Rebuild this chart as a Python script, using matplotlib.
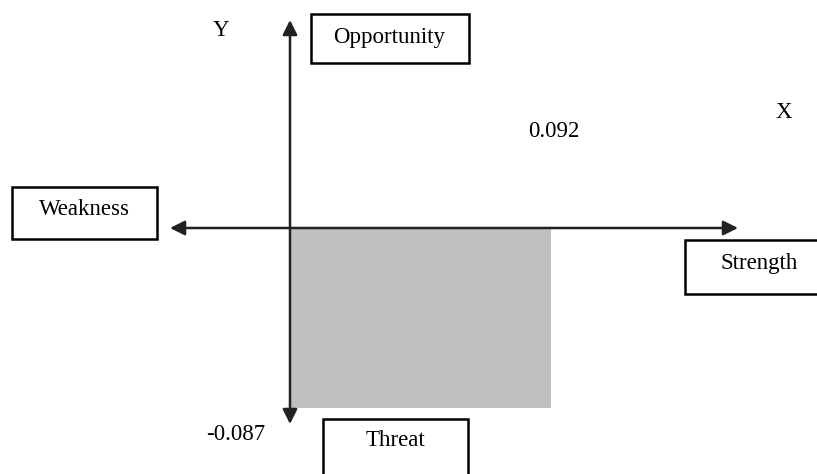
import matplotlib
matplotlib.use("Agg")
import matplotlib.pyplot as plt
from matplotlib.patches import Rectangle

# Data
strength_value = 0.092     # X (Strength)
threat_value = -0.087      # Y (Threat)
box_labels = ["Opportunity", "Weakness", "Strength", "Threat"]
axis_labels = ["X", "Y"]

W, H = 817, 474
fig = plt.figure(figsize=(W / 100, H / 100), dpi=100)
ax = fig.add_axes([0, 0, 1, 1])
ax.set_axis_off()

# origin at pixel (290, 228); value scale from rectangle extent
ox, oy = 290, 228
sx = (551 - ox) / strength_value
sy = (408 - oy) / abs(threat_value)
ax.set_xlim(-ox / sx, (W - ox) / sx)
ax.set_ylim(-(H - oy) / sy, oy / sy)

ax.add_patch(Rectangle((0, 0), strength_value, threat_value,
                       facecolor="#c0c0c0", edgecolor="none", zorder=1))

def P(x, y):
    return (x / W, 1 - y / H)

ft = dict(family="Liberation Serif", fontsize=16.5, color="black")

# axes arrows
arrow = dict(arrowstyle="<|-|>", color="#222222", lw=1.8,
             mutation_scale=22, shrinkA=0, shrinkB=0)
ax.annotate("", xy=P(170, 228), xytext=P(738, 228), xycoords="figure fraction",
            textcoords="figure fraction", arrowprops=arrow, zorder=3)
ax.annotate("", xy=P(290, 20), xytext=P(290, 424), xycoords="figure fraction",
            textcoords="figure fraction", arrowprops=arrow, zorder=3)

# boxes
def box(x0, y0, x1, y1, label, tx, ty):
    r = Rectangle(P(x0, y1), (x1 - x0) / W, (y1 - y0) / H,
                  transform=fig.transFigure, facecolor="white",
                  edgecolor="black", lw=1.8, zorder=4, clip_on=False)
    fig.patches.append(r)
    fig.text(*P(tx, ty), label, ha="center", va="center", zorder=5, **ft)

box(311, 14, 469, 63, box_labels[0], 389, 38)
box(12, 187, 157, 239, box_labels[1], 84, 210)
box(685, 240, 830, 294, box_labels[2], 759, 263)
box(323, 419, 468, 490, box_labels[3], 395, 441)

fig.text(*P(221, 31), axis_labels[1], ha="center", va="center", **ft)
fig.text(*P(784, 113), axis_labels[0], ha="center", va="center", **ft)
fig.text(*P(554, 131), f"{strength_value:.3f}", ha="center", va="center", **ft)
fig.text(*P(236, 434), f"{threat_value:.3f}", ha="center", va="center", **ft)

fig.savefig("out.png", dpi=100, facecolor="white")
